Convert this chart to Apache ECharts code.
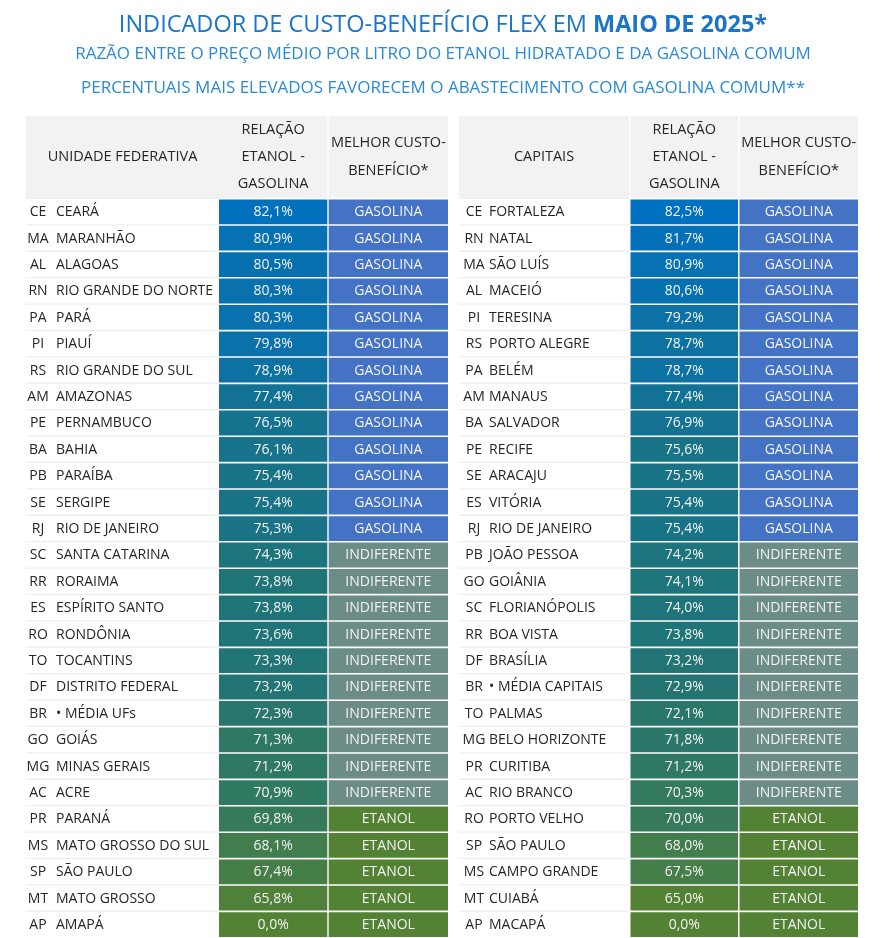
<!DOCTYPE html>
<html>
<head>
<meta charset="utf-8">
<script src="https://cdn.jsdelivr.net/npm/echarts@6/dist/echarts.min.js"></script>
<style>
html,body{margin:0;padding:0;background:#fff}
#main{width:886px;height:938px}
</style>
</head>
<body>
<div id="main"></div>
<script>
// unidades federativas
var ufCodes = ['CE','MA','AL','RN','PA','PI','RS','AM','PE','BA','PB','SE','RJ','SC','RR','ES','RO','TO','DF','BR','GO','MG','AC','PR','MS','SP','MT','AP'];
var ufNames = ['CEARÁ','MARANHÃO','ALAGOAS','RIO GRANDE DO NORTE','PARÁ','PIAUÍ','RIO GRANDE DO SUL','AMAZONAS','PERNAMBUCO','BAHIA','PARAÍBA','SERGIPE','RIO DE JANEIRO','SANTA CATARINA','RORAIMA','ESPÍRITO SANTO','RONDÔNIA','TOCANTINS','DISTRITO FEDERAL','• MÉDIA UFs','GOIÁS','MINAS GERAIS','ACRE','PARANÁ','MATO GROSSO DO SUL','SÃO PAULO','MATO GROSSO','AMAPÁ'];
var ufRatio = [82.1,80.9,80.5,80.3,80.3,79.8,78.9,77.4,76.5,76.1,75.4,75.4,75.3,74.3,73.8,73.8,73.6,73.3,73.2,72.3,71.3,71.2,70.9,69.8,68.1,67.4,65.8,0.0];
var ufBest = ['GASOLINA','GASOLINA','GASOLINA','GASOLINA','GASOLINA','GASOLINA','GASOLINA','GASOLINA','GASOLINA','GASOLINA','GASOLINA','GASOLINA','GASOLINA',
  'INDIFERENTE','INDIFERENTE','INDIFERENTE','INDIFERENTE','INDIFERENTE','INDIFERENTE','INDIFERENTE','INDIFERENTE','INDIFERENTE','INDIFERENTE',
  'ETANOL','ETANOL','ETANOL','ETANOL','ETANOL'];

// capitais
var capCodes = ['CE','RN','MA','AL','PI','RS','PA','AM','BA','PE','SE','ES','RJ','PB','GO','SC','RR','DF','BR','TO','MG','PR','AC','RO','SP','MS','MT','AP'];
var capNames = ['FORTALEZA','NATAL','SÃO LUÍS','MACEIÓ','TERESINA','PORTO ALEGRE','BELÉM','MANAUS','SALVADOR','RECIFE','ARACAJU','VITÓRIA','RIO DE JANEIRO','JOÃO PESSOA','GOIÂNIA','FLORIANÓPOLIS','BOA VISTA','BRASÍLIA','• MÉDIA CAPITAIS','PALMAS','BELO HORIZONTE','CURITIBA','RIO BRANCO','PORTO VELHO','SÃO PAULO','CAMPO GRANDE','CUIABÁ','MACAPÁ'];
var capRatio = [82.5,81.7,80.9,80.6,79.2,78.7,78.7,77.4,76.9,75.6,75.5,75.4,75.4,74.2,74.1,74.0,73.8,73.2,72.9,72.1,71.8,71.2,70.3,70.0,68.0,67.5,65.0,0.0];
var capBest = ['GASOLINA','GASOLINA','GASOLINA','GASOLINA','GASOLINA','GASOLINA','GASOLINA','GASOLINA','GASOLINA','GASOLINA','GASOLINA','GASOLINA','GASOLINA',
  'INDIFERENTE','INDIFERENTE','INDIFERENTE','INDIFERENTE','INDIFERENTE','INDIFERENTE','INDIFERENTE','INDIFERENTE','INDIFERENTE','INDIFERENTE',
  'ETANOL','ETANOL','ETANOL','ETANOL','ETANOL'];

var bestColors = {GASOLINA: '#4472c4', INDIFERENTE: '#6b8c87', ETANOL: '#548235'};
var FONT = '"Open Sans"';

// colunas (px a partir da esquerda de cada grid)
var colsUF = {name: [0, 193], ratio: [193, 301.3], best: [302.7, 422], code: 12, nameX: 30};
var colsCap = {name: [0, 170], ratio: [171.5, 279], best: [280.5, 399], code: 15, nameX: 30};

function fmt(v) {
  return v.toFixed(1).replace('.', ',') + '%';
}

function tableSeries(idx, codes, names, ratio, best, cols) {
  return {
    type: 'custom',
    xAxisIndex: idx,
    yAxisIndex: idx,
    data: ratio.map(function (v, i) { return [i, v]; }),
    encode: {y: 0},
    renderItem: function (params, api) {
      var i = api.value(0);
      var v = api.value(1);
      var band = api.size([0, 1])[1];
      var cy = api.coord([0, i])[1];
      var top = cy - band / 2;
      var gap = 1.6;
      var px = function (x) { return api.coord([x, i])[0]; };
      var txt = {fontFamily: FONT, fontSize: 14, verticalAlign: 'middle'};
      var ty = top + gap + (band - gap) / 2 + 0.5;
      return {
        type: 'group',
        children: [
          {type: 'rect', shape: {x: px(cols.name[0]), y: top, width: px(cols.name[1]) - px(cols.name[0]), height: 1.3},
           style: {fill: '#efefef'}},
          {type: 'text', x: px(cols.code), y: ty,
           style: Object.assign({text: codes[i], fill: '#262626', align: 'center'}, txt)},
          {type: 'text', x: px(cols.nameX), y: ty,
           style: Object.assign({text: names[i], fill: '#262626', align: 'left'}, txt)},
          {type: 'rect', shape: {x: px(cols.ratio[0]), y: top + gap, width: px(cols.ratio[1]) - px(cols.ratio[0]), height: band - gap},
           style: {fill: api.visual('color')}},
          {type: 'text', x: (px(cols.ratio[0]) + px(cols.ratio[1])) / 2, y: ty,
           style: Object.assign({text: fmt(v), fill: '#f2f2f2', align: 'center'}, txt)},
          {type: 'rect', shape: {x: px(cols.best[0]), y: top + gap, width: px(cols.best[1]) - px(cols.best[0]), height: band - gap},
           style: {fill: bestColors[best[i]]}},
          {type: 'text', x: (px(cols.best[0]) + px(cols.best[1])) / 2, y: ty,
           style: Object.assign({text: best[i], fill: '#f4f4f4', align: 'center'}, txt)}
        ]
      };
    }
  };
}

function headerGraphics(left, cols, firstTitle) {
  var hTop = 116, hH = 81.7;
  var st = {fontFamily: FONT, fontSize: 14.5, fill: '#262626', align: 'center', verticalAlign: 'middle'};
  var out = [];
  [cols.name, cols.ratio, cols.best].forEach(function (c) {
    out.push({type: 'rect', shape: {x: left + c[0], y: hTop, width: c[1] - c[0], height: hH}, style: {fill: '#f2f2f2'}, silent: true});
  });
  out.push({type: 'text', x: left + (cols.name[0] + cols.name[1]) / 2, y: 157,
    style: Object.assign({text: firstTitle}, st)});
  out.push({type: 'text', x: left + (cols.ratio[0] + cols.ratio[1]) / 2, y: 157,
    style: Object.assign({text: 'RELAÇÃO\nETANOL -\nGASOLINA', lineHeight: 27}, st)});
  out.push({type: 'text', x: left + (cols.best[0] + cols.best[1]) / 2, y: 157,
    style: Object.assign({text: 'MELHOR CUSTO-\nBENEFÍCIO*', lineHeight: 28}, st)});
  return out;
}

var chart = echarts.init(document.getElementById('main'));
var rows = ufRatio.map(function (v, i) { return i; });

chart.setOption({
  backgroundColor: '#ffffff',
  animation: false,
  title: [{
    text: '{n|INDICADOR DE CUSTO-BENEFÍCIO FLEX EM }{b|MAIO DE 2025*}',
    left: 'center', top: 8,
    textStyle: {
      rich: {
        n: {fontFamily: FONT, fontSize: 23.5, fontWeight: 'normal', color: '#1a74c9'},
        b: {fontFamily: FONT, fontSize: 23.5, fontWeight: 'bold', color: '#1a74c9'}
      }
    }
  }, {
    text: 'RAZÃO ENTRE O PREÇO MÉDIO POR LITRO DO ETANOL HIDRATADO E DA GASOLINA COMUM',
    left: 'center', top: 41,
    textStyle: {fontFamily: FONT, fontSize: 17, fontWeight: 'normal', color: '#2b8ad8'}
  }, {
    text: 'PERCENTUAIS MAIS ELEVADOS FAVORECEM O ABASTECIMENTO COM GASOLINA COMUM**',
    left: 'center', top: 75,
    textStyle: {fontFamily: FONT, fontSize: 17, fontWeight: 'normal', color: '#2b8ad8'}
  }],
  visualMap: {
    show: false,
    type: 'continuous',
    dimension: 1,
    seriesIndex: [0, 1],
    min: 65,
    max: 82.5,
    inRange: {color: ['#548235', '#1f7478', '#0070c0']}
  },
  grid: [
    {left: 26, top: 197.8, width: 422, height: 739.2},
    {left: 459, top: 197.8, width: 399, height: 739.2}
  ],
  xAxis: [
    {type: 'value', gridIndex: 0, min: 0, max: 422, show: false},
    {type: 'value', gridIndex: 1, min: 0, max: 399, show: false}
  ],
  yAxis: [
    {type: 'category', gridIndex: 0, data: rows, inverse: true, show: false},
    {type: 'category', gridIndex: 1, data: rows, inverse: true, show: false}
  ],
  graphic: headerGraphics(26, colsUF, 'UNIDADE FEDERATIVA').concat(headerGraphics(459, colsCap, 'CAPITAIS')),
  series: [
    tableSeries(0, ufCodes, ufNames, ufRatio, ufBest, colsUF),
    tableSeries(1, capCodes, capNames, capRatio, capBest, colsCap)
  ]
});
</script>
</body>
</html>
